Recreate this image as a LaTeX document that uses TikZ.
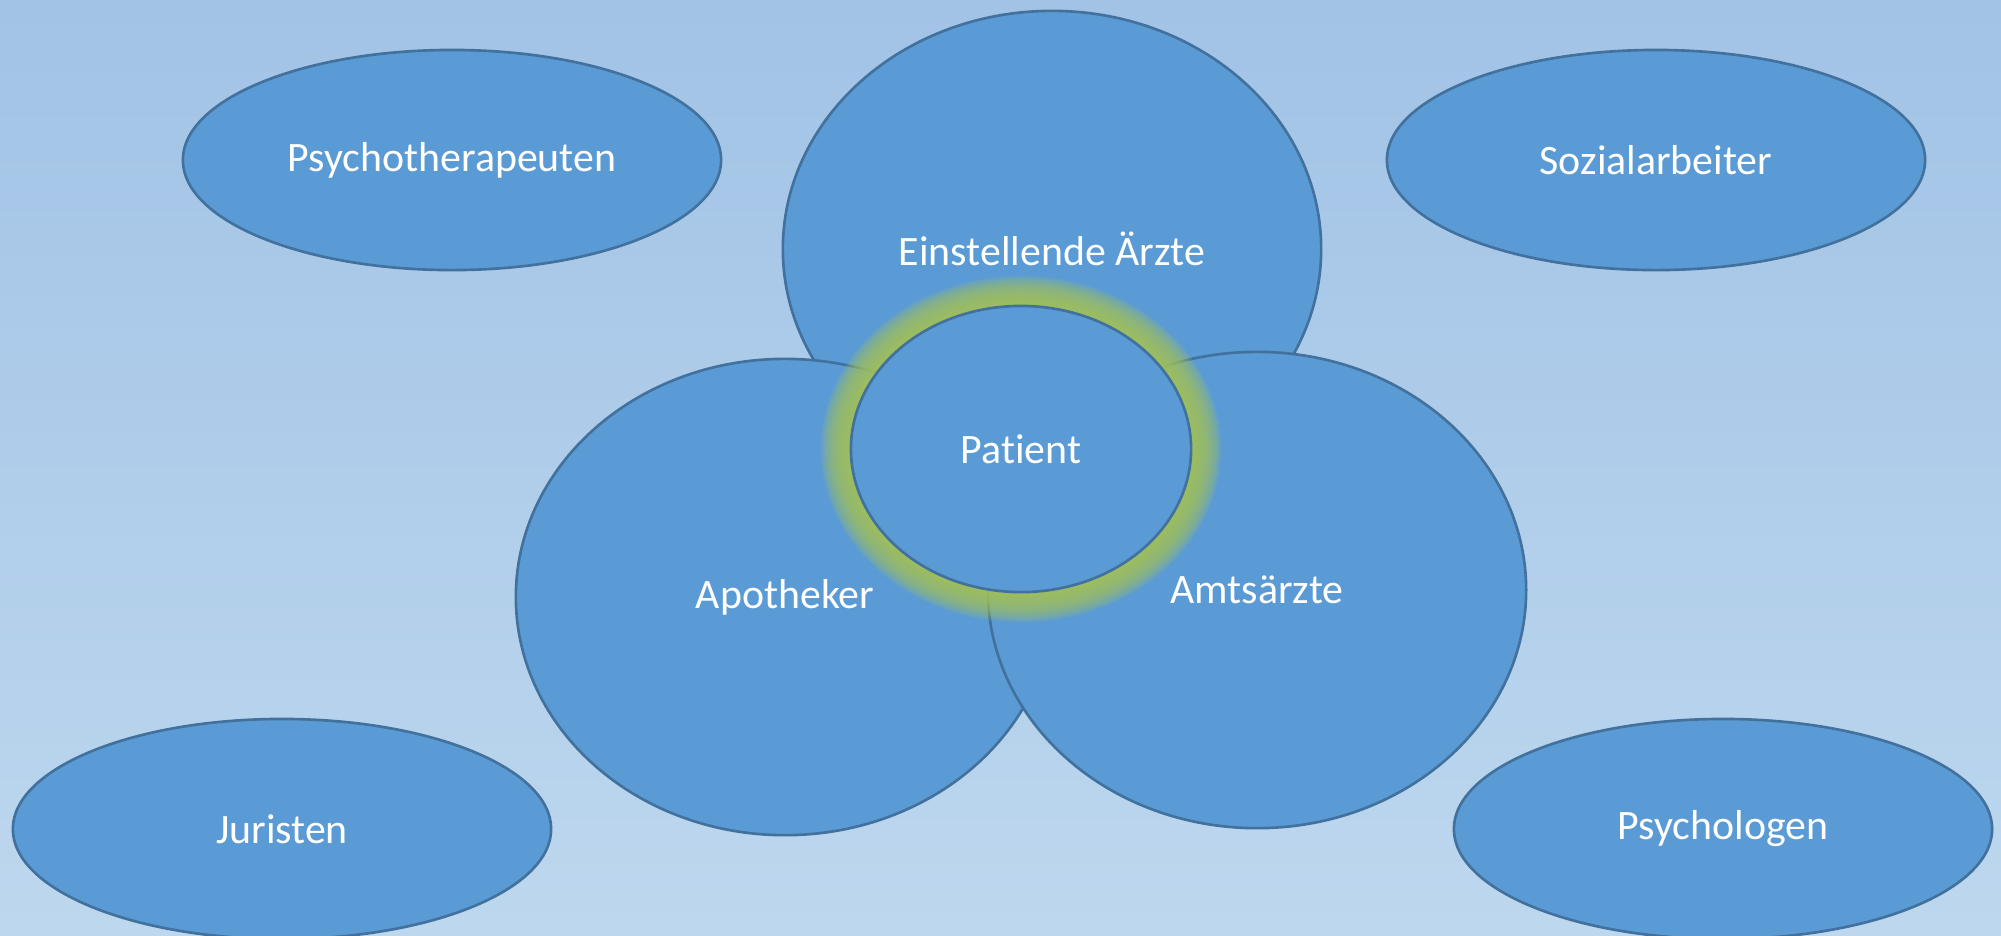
\documentclass[tikz,border=0pt]{standalone}
\usepackage{fontspec}
\setmainfont[Ligatures=NoCommon]{Carlito}
\usetikzlibrary{shapes.geometric}

\definecolor{bgtop}{HTML}{A2C3E6}
\definecolor{bgbottom}{HTML}{BDD7EE}
\definecolor{ovalfill}{HTML}{5B9BD5}
\definecolor{ovalline}{HTML}{41719C}
\definecolor{glowgreen}{HTML}{A3C25A}

\begin{document}
\begin{tikzpicture}[x=0.01cm,y=-0.01cm]
\tikzstyle{every node}=[ellipse,fill=ovalfill,draw=ovalline,line width=0.75pt,text=white,inner sep=0pt,font=\fontsize{11.9}{14}\selectfont]
\tikzstyle{flat oval}=[minimum width=5.38cm,minimum height=2.2cm]
\tikzstyle{big oval}=[minimum width=5.38cm,minimum height=4.76cm]
% background
\shade[top color=bgtop,bottom color=bgbottom] (0,0) rectangle (2001,935);
\useasboundingbox (0,0) rectangle (2001,935);
% outer ring
\node[flat oval] (psychotherapeuten) at (452,160) {Psychotherapeuten};
\node[flat oval] (sozialarbeiter) at (1656,160) {Sozialarbeiter};
\node[flat oval] (juristen) at (282,829) {Juristen};
\node[flat oval] (psychologen) at (1723,829) {Psychologen};
% the three around the patient
\node[big oval] (aerzte) at (1052,249) {Einstellende Ärzte};
\node[big oval] (apotheker) at (785,597) {Apotheker};
\node[big oval] (amtsaerzte) at (1257,590) {Amtsärzte};
% glow
\coordinate (patc) at (1021,449);
\foreach \d in {30,28,...,0}
  \fill[glowgreen,opacity=0.16] (patc) ellipse [x radius=170+\d, y radius=143+\d];
\node[minimum width=3.4cm,minimum height=2.86cm] (patient) at (patc) {Patient};
\end{tikzpicture}
\end{document}
